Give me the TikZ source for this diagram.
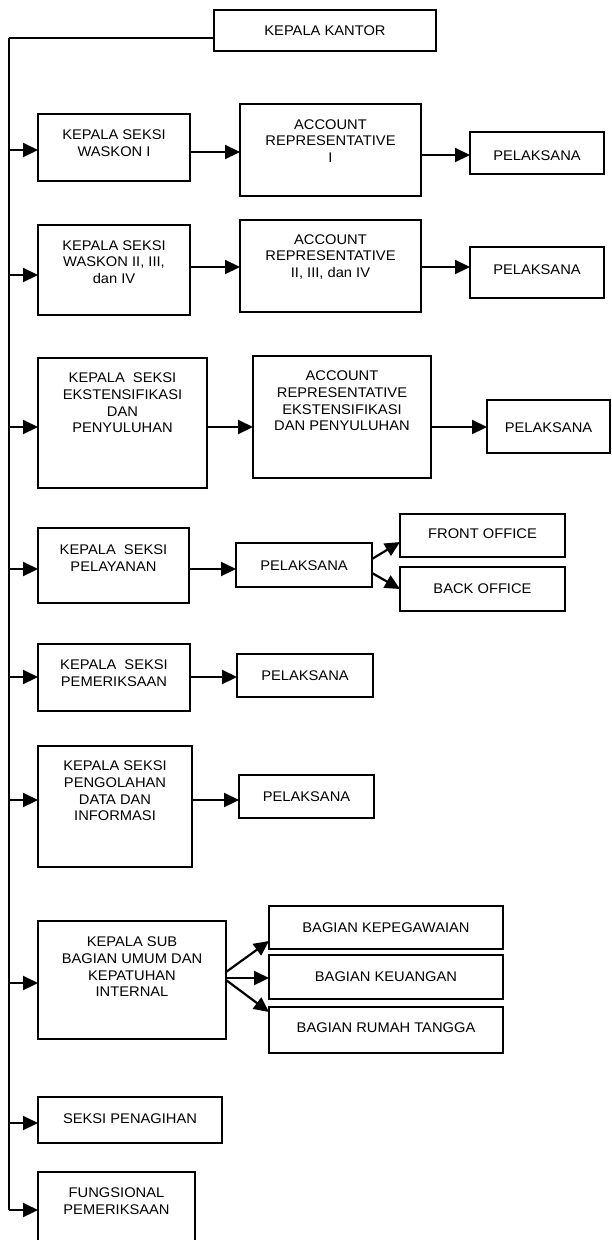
\documentclass[tikz,border=0pt]{standalone}
\usepackage{fontspec}
\setmainfont{Liberation Sans}[FakeStretch=1.05]
\usetikzlibrary{arrows.meta}
\tikzset{
  box/.style={draw, line width=1.5pt, inner sep=0pt, outer sep=0pt},
  txt/.style={align=center, inner sep=0pt, font=\fontsize{14}{16.7}\selectfont},
  arr/.style={line width=2.2pt, -{Triangle[length=15pt,width=14pt]}},
  trunk/.style={line width=1.3pt},
}
\newcommand\bx[7]{%
  \node[box, minimum width={(#4)-(#2)}, minimum height={(#5)-(#3)}] (#1) at ({((#2)+(#4))/2},{((#3)+(#5))/2}) {};
  \node[txt] (#1t) at ({((#2)+(#4))/2},#6) {#7};}
\begin{document}
\begin{tikzpicture}[x=1pt,y=-1pt]
\useasboundingbox (0,0) rectangle (611,1240);
\clip (0,0) rectangle (611,1240);
% boxes
\bx{kk}{214}{10}{436}{51}{31}{KEPALA KANTOR}
\bx{ks1}{38}{114}{190}{181}{143}{KEPALA SEKSI\\WASKON I}
\bx{acc1}{240}{104}{421}{196}{141}{ACCOUNT\\REPRESENTATIVE\\I}
\bx{pel1}{470}{132}{604}{174}{156}{PELAKSANA}
\bx{ks2}{38}{225}{190}{315}{262}{KEPALA SEKSI\\WASKON II, III,\\dan IV}
\bx{acc2}{240}{220}{421}{312}{257}{ACCOUNT\\REPRESENTATIVE\\II, III, dan IV}
\bx{pel2}{470}{247}{604}{298}{270}{PELAKSANA}
\bx{ks3}{38}{358}{207}{488}{403}{KEPALA~ SEKSI\\EKSTENSIFIKASI\\DAN\\PENYULUHAN}
\bx{acc3}{253}{356}{431}{478}{401}{ACCOUNT\\REPRESENTATIVE\\EKSTENSIFIKASI\\DAN PENYULUHAN}
\bx{pel3}{487}{400}{610}{453}{428}{PELAKSANA}
\bx{ks4}{38}{528}{189}{603}{558}{KEPALA~ SEKSI\\PELAYANAN}
\bx{pel4}{236}{543}{372}{587}{566}{PELAKSANA}
\bx{fo}{400}{514}{565}{557}{534}{FRONT OFFICE}
\bx{bo}{400}{567}{565}{611}{589}{BACK OFFICE}
\bx{ks5}{38}{644}{190}{711}{673}{KEPALA~ SEKSI\\PEMERIKSAAN}
\bx{pel5}{237}{654}{373}{697}{676}{PELAKSANA}
\bx{ks6}{38}{746}{192}{867}{791}{KEPALA SEKSI\\PENGOLAHAN\\DATA DAN\\INFORMASI}
\bx{pel6}{239}{775}{374}{818}{797}{PELAKSANA}
\bx{ks7}{38}{921}{226}{1039}{967}{KEPALA SUB\\BAGIAN UMUM DAN\\KEPATUHAN\\INTERNAL}
\bx{bg1}{269}{906}{503}{949}{928}{BAGIAN KEPEGAWAIAN}
\bx{bg2}{269}{955}{503}{999}{977}{BAGIAN KEUANGAN}
\bx{bg3}{269}{1007}{503}{1053}{1028}{BAGIAN RUMAH TANGGA}
\bx{sp}{38}{1097}{222}{1143}{1119}{SEKSI PENAGIHAN}
\bx{fung}{38}{1172}{195}{1260}{1201}{FUNGSIONAL\\PEMERIKSAAN}
% trunk
\coordinate (t0) at (9,38);
\coordinate (tb) at (9,1210);
\draw[line width=1.1pt] (t0) -- (kk.west |- t0);
\draw[trunk] (t0) -- (tb);
% trunk arrows
\draw[arr] (t0 |- 0,150) -- (ks1.west |- 0,150);
\draw[arr] (t0 |- 0,275) -- (ks2.west |- 0,275);
\draw[arr] (t0 |- 0,427) -- (ks3.west |- 0,427);
\draw[arr] (t0 |- 0,569) -- (ks4.west |- 0,569);
\draw[arr] (t0 |- 0,677) -- (ks5.west |- 0,677);
\draw[arr] (t0 |- 0,800) -- (ks6.west |- 0,800);
\draw[arr] (t0 |- 0,983) -- (ks7.west |- 0,983);
\draw[arr] (t0 |- 0,1123) -- (sp.west |- 0,1123);
\draw[arr] (tb) -- (fung.west |- tb);
% row arrows
\draw[arr] (ks1.east |- 0,152) -- (acc1.west |- 0,152);
\draw[arr] (acc1.east |- 0,155) -- (pel1.west |- 0,155);
\draw[arr] (ks2.east |- 0,267) -- (acc2.west |- 0,267);
\draw[arr] (acc2.east |- 0,267) -- (pel2.west |- 0,267);
\draw[arr] (ks3.east |- 0,427) -- (acc3.west |- 0,427);
\draw[arr] (acc3.east |- 0,427) -- (pel3.west |- 0,427);
\draw[arr] (ks4.east |- 0,569) -- (pel4.west |- 0,569);
\draw[arr] (pel4.east |- 0,559) -- (fo.west |- 0,542);
\draw[arr] (pel4.east |- 0,573) -- (bo.west |- 0,589);
\draw[arr] (ks5.east |- 0,677) -- (pel5.west |- 0,677);
\draw[arr] (ks6.east |- 0,800) -- (pel6.west |- 0,800);
\draw[arr] (ks7.east |- 0,972) -- (bg1.west |- 0,941);
\draw[arr] (ks7.east |- 0,978) -- (bg2.west |- 0,978);
\draw[arr] (ks7.east |- 0,980) -- (bg3.west |- 0,1012);
\end{tikzpicture}
\end{document}
